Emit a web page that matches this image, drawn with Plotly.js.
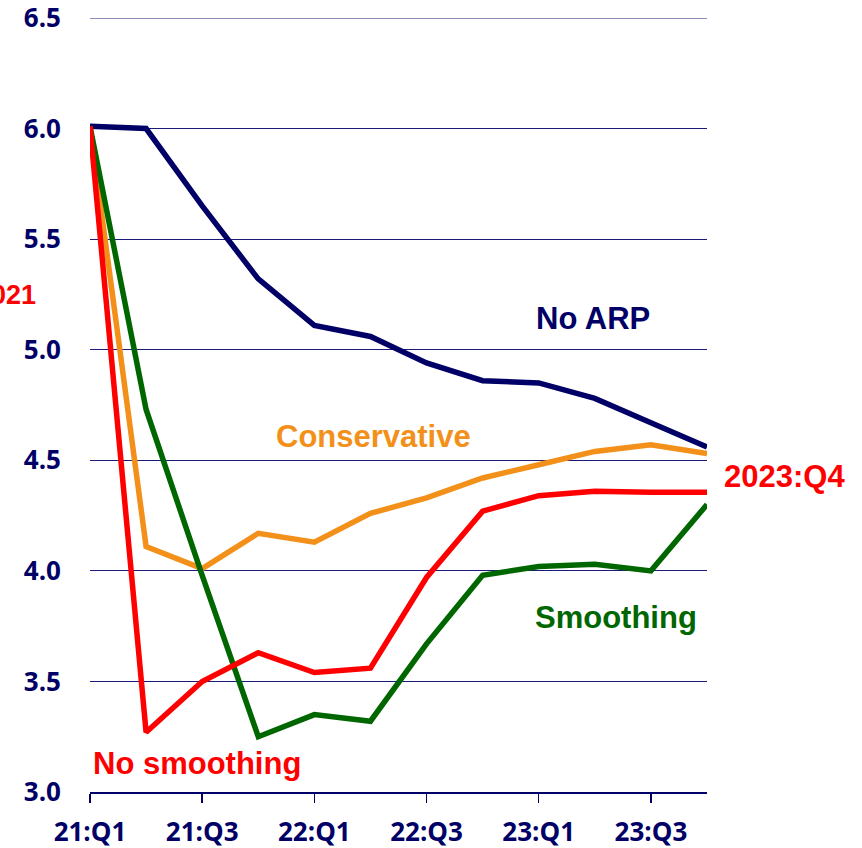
<!DOCTYPE html>
<html>
<head>
<meta charset="utf-8">
<script src="https://cdn.plot.ly/plotly-3.0.1.min.js"></script>
<style>
  html, body { margin: 0; padding: 0; background: #fff; }
  #chart { width: 862px; height: 848px; }
</style>
</head>
<body>
<div id="chart"></div>
<script>
// Quarters 2021:Q1 .. 2023:Q4
const quarters = ["21:Q1","21:Q2","21:Q3","21:Q4","22:Q1","22:Q2","22:Q3","22:Q4","23:Q1","23:Q2","23:Q3","23:Q4"];
const tickQuarters = ["21:Q1","21:Q3","22:Q1","22:Q3","23:Q1","23:Q3"];

const noARP       = [6.01, 6.00, 5.65, 5.32, 5.11, 5.06, 4.94, 4.86, 4.85, 4.78, 4.67, 4.56];
const conservative= [6.01, 4.11, 4.01, 4.17, 4.13, 4.26, 4.33, 4.42, 4.48, 4.54, 4.57, 4.53];
const noSmoothing = [6.01, 3.27, 3.50, 3.63, 3.54, 3.56, 3.97, 4.27, 4.34, 4.36, 4.355, 4.355];
const smoothing   = [6.01, 4.73, 3.98, 3.25, 3.35, 3.32, 3.67, 3.98, 4.02, 4.03, 4.00, 4.30];

const yTicks = [3.0, 3.5, 4.0, 4.5, 5.0, 5.5, 6.0, 6.5];

const NAVY = "#000066", ORANGE = "#F39019", RED = "#FF0000", GREEN = "#006600";
const GRID = "#1a1a7a";

const W = 862, H = 848;
const M = {l: 90, r: 155, t: 18, b: 56};
const px = x => (x - M.l) / (W - M.l - M.r);
const py = y => (H - M.b - y) / (H - M.t - M.b);

function line(y, color) {
  return {x: quarters, y: y, type: "scatter", mode: "lines",
          line: {color: color, width: 5.5}, hoverinfo: "skip"};
}

const data = [
  line(noARP, NAVY),
  line(conservative, ORANGE),
  line(smoothing, GREEN),
  line(noSmoothing, RED)
];

function ann(text, x, y, color, xanchor, size) {
  return {text: text, xref: "paper", yref: "paper", x: px(x), y: py(y),
          xanchor: xanchor || "center", yanchor: "middle", showarrow: false,
          font: {family: "Liberation Sans, Arial, sans-serif", size: size || 31, color: color, weight: "bold"}};
}

const tickFont = {family: "Open Sans, sans-serif", size: 26, color: NAVY, weight: "bold"};

const layout = {
  width: W, height: H,
  margin: M,
  paper_bgcolor: "#fff", plot_bgcolor: "#fff",
  showlegend: false,
  xaxis: {
    type: "category",
    range: [0, 11],
    tickvals: tickQuarters,
    ticktext: tickQuarters,
    ticks: "outside", ticklen: 9, tickwidth: 1.5, tickcolor: NAVY,
    showline: true, linecolor: NAVY, linewidth: 1.5,
    showgrid: false, zeroline: false,
    ticklabelstandoff: 7,
    ticklabeloverflow: "allow",
    tickfont: tickFont
  },
  yaxis: {
    range: [3.0, 6.5],
    tickvals: yTicks,
    ticktext: yTicks.map(v => v.toFixed(1)),
    ticks: "", showline: false, zeroline: false,
    showgrid: true, gridcolor: GRID, gridwidth: 1,
    ticklabelstandoff: 28,
    ticklabeloverflow: "allow",
    tickfont: tickFont
  },
  shapes: [
    {type: "line", xref: "paper", yref: "y", x0: 0, x1: 1, y0: 6.5, y1: 6.5,
     line: {color: GRID, width: 1}, layer: "below"}
  ],
  annotations: [
    ann("No ARP", 593, 318, NAVY),
    ann("Conservative", 373, 436, ORANGE),
    ann("Smoothing", 616, 617, GREEN),
    ann("No smoothing", 197, 763, RED),
    ann("2023:Q4", 784, 476, RED),
    ann("2021", 38, 295, RED, "right", 27)
  ]
};

Plotly.newPlot("chart", data, layout, {displayModeBar: false, staticPlot: true});
</script>
</body>
</html>
